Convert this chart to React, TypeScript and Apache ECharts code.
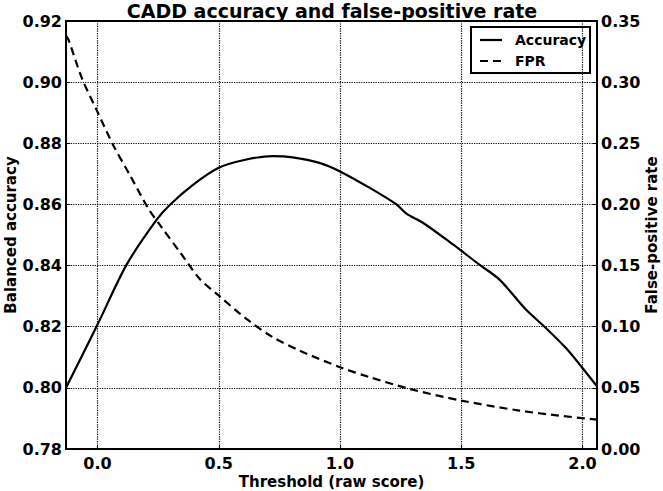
import React, { useEffect, useRef } from "react";
import * as echarts from "echarts";

const accuracyX = [-0.13, 0.0, 0.12, 0.244, 0.3, 0.395, 0.5, 0.614, 0.723, 0.805, 0.915, 1.0, 1.123, 1.233, 1.274, 1.342, 1.466, 1.575, 1.658, 1.767, 1.849, 1.932, 2.0, 2.06];
const accuracyY = [0.8, 0.8207, 0.8403, 0.855, 0.86, 0.8665, 0.872, 0.8747, 0.8758, 0.8754, 0.8736, 0.8708, 0.8654, 0.86, 0.857, 0.854, 0.8469, 0.8403, 0.8354, 0.8256, 0.8196, 0.813, 0.8065, 0.8005];

const fprX = [-0.13, -0.119, -0.064, 0.0, 0.066, 0.134, 0.21, 0.258, 0.34, 0.422, 0.5, 0.614, 0.723, 0.833, 1.0, 1.123, 1.288, 1.5, 1.74, 1.904, 2.06];
const fprY = [0.338, 0.3343, 0.303, 0.2757, 0.248, 0.2238, 0.1965, 0.183, 0.161, 0.139, 0.1255, 0.1064, 0.0914, 0.0805, 0.0669, 0.0587, 0.0491, 0.0396, 0.0314, 0.0273, 0.024];

const legendNames = ["Accuracy", "FPR"];

const FONT = "DejaVu Sans";

export default function App() {
  const ref = useRef<HTMLDivElement>(null);
  useEffect(() => {
    const chart = echarts.init(ref.current!, null, { renderer: "svg" });
    const labelStyle = { color: "#000", fontFamily: FONT, fontWeight: "bold" as const, fontSize: 16 };
    const nameStyle = { color: "#000", fontFamily: FONT, fontWeight: "bold" as const, fontSize: 15 };
    const grid = { color: "#000", type: "dotted" as const, width: 1.2 };
    const legendText = (text: string, y: number) => ({
      type: "text",
      x: 515,
      y,
      style: {
        text,
        fill: "#000",
        fontFamily: FONT,
        fontWeight: "bold",
        fontSize: 14,
        verticalAlign: "middle",
        align: "left",
      },
    });
    chart.setOption({
      animation: false,
      backgroundColor: "#fff",
      title: {
        text: "CADD accuracy and false-positive rate",
        left: 332,
        textAlign: "center",
        top: 1,
        padding: 0,
        textStyle: { color: "#000", fontFamily: FONT, fontWeight: "bold", fontSize: 19 },
      },
      grid: {
        left: 66,
        right: 66,
        top: 21,
        bottom: 42,
        outerBoundsMode: "none",
        containLabel: false,
        show: true,
        borderColor: "#000",
        borderWidth: 2,
        backgroundColor: "transparent",
      },
      graphic: [
        {
          type: "group",
          z: 100,
          children: [
            {
              type: "rect",
              shape: { x: 471, y: 27, width: 119, height: 46 },
              style: { fill: "#fff", stroke: "#000", lineWidth: 2 },
            },
            {
              type: "line",
              shape: { x1: 480, y1: 40, x2: 502, y2: 40 },
              style: { stroke: "#000", lineWidth: 2.2 },
            },
            {
              type: "line",
              shape: { x1: 480, y1: 61, x2: 502, y2: 61 },
              style: { stroke: "#000", lineWidth: 2.2, lineDash: [8, 5] },
            },
            legendText(legendNames[0], 40),
            legendText(legendNames[1], 61),
          ],
        },
      ],
      xAxis: {
        type: "value",
        min: -0.13,
        max: 2.06,
        minInterval: 0.5,
        maxInterval: 0.5,
        name: "Threshold (raw score)",
        nameLocation: "middle",
        nameGap: 25,
        nameMoveOverlap: false,
        nameTextStyle: nameStyle,
        axisLine: { show: true, onZero: false, lineStyle: { color: "#000", width: 2 } },
        axisTick: { show: true, inside: true, length: 4, lineStyle: { color: "#000" } },
        axisLabel: {
          ...labelStyle,
          margin: 6,
          showMinLabel: false,
          showMaxLabel: false,
          formatter: (v: number) => v.toFixed(1),
        },
        splitLine: { show: true, lineStyle: grid },
      },
      yAxis: [
        {
          type: "value",
          min: 0.78,
          max: 0.92,
          interval: 0.02,
          position: "left",
          name: "Balanced accuracy",
          nameLocation: "middle",
          nameRotate: 90,
          nameGap: 48,
          nameMoveOverlap: false,
          nameTextStyle: nameStyle,
          axisLine: { show: true, onZero: false, lineStyle: { color: "#000", width: 2 } },
          axisTick: { show: true, inside: true, length: 4, lineStyle: { color: "#000" } },
          axisLabel: { ...labelStyle, margin: 4, formatter: (v: number) => v.toFixed(2) },
          splitLine: { show: true, lineStyle: grid },
        },
        {
          type: "value",
          min: 0,
          max: 0.35,
          interval: 0.05,
          position: "right",
          name: "False-positive rate",
          nameLocation: "middle",
          nameRotate: 90,
          nameGap: 47,
          nameMoveOverlap: false,
          nameTextStyle: nameStyle,
          axisLine: { show: true, onZero: false, lineStyle: { color: "#000", width: 2 } },
          axisTick: { show: true, inside: true, length: 4, lineStyle: { color: "#000" } },
          axisLabel: { ...labelStyle, margin: 4, formatter: (v: number) => v.toFixed(2) },
          splitLine: { show: false },
        },
      ],
      series: [
        {
          name: "Accuracy",
          type: "line",
          yAxisIndex: 0,
          symbol: "none",
          smooth: 0.3,
          color: "#000",
          lineStyle: { color: "#000", width: 2.2 },
          data: accuracyX.map((x, i) => [x, accuracyY[i]]),
        },
        {
          name: "FPR",
          type: "line",
          yAxisIndex: 1,
          symbol: "none",
          smooth: 0.3,
          color: "#000",
          lineStyle: { color: "#000", width: 2.2, type: [8, 5] },
          data: fprX.map((x, i) => [x, fprY[i]]),
        },
      ],
    });
    return () => chart.dispose();
  }, []);
  return <div ref={ref} style={{ position: "fixed", left: 0, top: 0, width: 663, height: 491 }} />;
}
